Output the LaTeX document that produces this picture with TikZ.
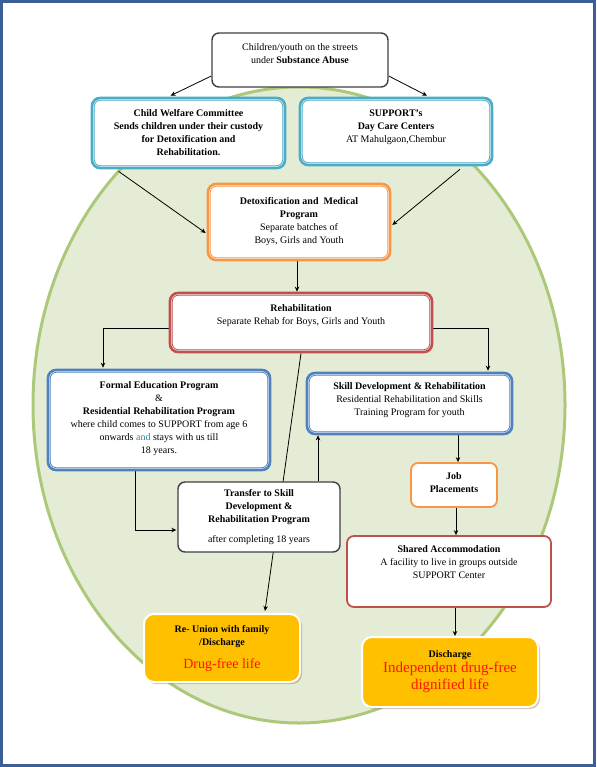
\documentclass[tikz,border=0pt]{standalone}
\usepackage{fontspec}
\setmainfont{Liberation Serif}
\usetikzlibrary{arrows.meta,shadows,calc}
\definecolor{frameblue}{RGB}{59,95,148}
\definecolor{ellfill}{RGB}{229,236,214}
\definecolor{elldraw}{RGB}{172,201,122}
\definecolor{lblue}{RGB}{75,172,198}
\definecolor{mblue}{RGB}{79,129,189}
\definecolor{orng}{RGB}{247,150,70}
\definecolor{rred}{RGB}{192,80,77}
\definecolor{gold}{RGB}{255,192,0}
\definecolor{txtred}{RGB}{255,20,0}
\definecolor{andteal}{RGB}{49,132,155}
\definecolor{dgray}{RGB}{64,64,64}
\newcommand{\dn}[1]{\rule[-#1]{0pt}{#1}}
\newcommand{\bigred}{\fontsize{15}{18}\selectfont\color{txtred}}
\pgfdeclarelayer{ellayer}
\pgfdeclarelayer{linelayer}
\pgfsetlayers{ellayer,linelayer,main}
\begin{document}
\begin{tikzpicture}[x=1pt,y=-1pt,
  box/.style={rectangle, rounded corners=8pt, fill=white, align=center, inner sep=0pt,
    font=\fontsize{10}{13}\selectfont},
  dblbox/.style={box, draw=#1, line width=2.6pt},
  plainbox/.style={box, draw=#1, line width=1.4pt, rounded corners=7pt},
  goldbox/.style={box, fill=gold, draw=white, line width=2pt, rounded corners=10pt,
    drop shadow={shadow xshift=2pt, shadow yshift=-2pt, fill=brown!70!black, opacity=0.35}},
  conn/.style={draw=black, line width=0.8pt, -{Stealth[length=5pt,width=4.5pt]}}
]
\useasboundingbox (0,0) rectangle (596,767);
\begin{pgfonlayer}{ellayer}
\draw[frameblue, line width=3pt] (1.5,1.5) rectangle (594.5,765.5);
% big ellipse
\draw[fill=ellfill, draw=elldraw, line width=3pt] (299,405) ellipse [x radius=266pt, y radius=318pt];
\end{pgfonlayer}

% boxes
\node[plainbox=dgray, minimum width=176pt, minimum height=54pt] (top) at (300,60)
  {Children/youth on the streets\\ under \textbf{Substance Abuse}\dn{13pt}};
\node[dblbox=lblue, minimum width=193pt, minimum height=70pt] (cwc) at (188.5,133)
  {\textbf{Child Welfare Committee}\\ \textbf{Sends children under their custody}\\ \textbf{for Detoxification and}\\ \textbf{Rehabilitation.}};
\node[dblbox=lblue, minimum width=192pt, minimum height=67pt] (support) at (396,131.5)
  {\textbf{SUPPORT's}\\ \textbf{Day Care Centers}\\ AT Mahulgaon,Chembur\dn{11pt}};
\node[dblbox=orng, minimum width=182pt, minimum height=76pt] (detox) at (299,222)
  {\textbf{Detoxification and\ \ Medical}\\ \textbf{Program}\\ Separate batches of\\ Boys, Girls and Youth\dn{4pt}};
\node[dblbox=rred, minimum width=262pt, minimum height=59pt] (rehab) at (301,322.5)
  {\textbf{Rehabilitation}\\ Separate Rehab for Boys, Girls and Youth\dn{16pt}};
\node[dblbox=mblue, minimum width=222pt, minimum height=100pt] (formal) at (159,420)
  {\textbf{Formal Education Program}\\ \&\\ \textbf{Residential Rehabilitation Program}\\ where child comes to SUPPORT from age 6\\ onwards {\color{andteal}and} stays with us till\\ 18 years.\dn{4pt}};
\node[dblbox=mblue, minimum width=205pt, minimum height=61pt] (skill) at (409.5,403.5)
  {\textbf{Skill Development \& Rehabilitation}\\ Residential Rehabilitation and Skills\\ Training Program for youth\dn{8pt}};
\node[plainbox=dgray, minimum width=162pt, minimum height=70pt] (transfer) at (259,517)
  {\textbf{Transfer to Skill}\\ \textbf{Development \&}\\ \textbf{Rehabilitation Program}\\[7pt] after completing 18 years};
\node[plainbox=orng, line width=1.8pt, minimum width=86pt, minimum height=44pt] (job) at (454,485)
  {\textbf{Job}\\ \textbf{Placements}\dn{5pt}};
\node[plainbox=rred, line width=1.8pt, minimum width=204pt, minimum height=71pt] (shared) at (449,571.5)
  {\textbf{Shared Accommodation}\\ A facility to live in groups outside\\ SUPPORT Center\dn{19pt}};
\node[goldbox, minimum width=156pt, minimum height=68pt] (reunion) at (222,648)
  {\textbf{Re- Union with family}\\ \textbf{/Discharge}\\[10pt] {\fontsize{14}{16}\selectfont\color{txtred}Drug-free life}};
\node[goldbox, minimum width=176pt, minimum height=70pt] (discharge) at (450,672)
  {\textbf{Discharge}\\[2pt] {\bigred Independent drug-free}\\[3pt] {\bigred dignified life}\dn{4pt}};

% inner lines of double borders
\foreach \n/\c in {cwc/lblue, support/lblue, detox/orng, rehab/rred, formal/mblue, skill/mblue}
  \draw[\c, line width=0.8pt, rounded corners=6pt]
    ([shift={(3.6,3.6)}]\n.north west) rectangle ([shift={(-3.6,-3.6)}]\n.south east);

% connectors
\begin{pgfonlayer}{linelayer}
\draw[conn] ([shift={(0,16)}]top.west) -- ([shift={(-18,-1)}]cwc.north);
\draw[conn] ([shift={(0,16)}]top.east) -- ([shift={(31,-1)}]support.north);
\draw[conn] ([shift={(-70,2)}]cwc.south) -- ([shift={(-1,11)}]detox.west);
\draw[conn] ([shift={(64,3)}]support.south) -- ([shift={(1,3)}]detox.east);
\draw[conn] ([shift={(-2,0)}]detox.south) -- ([shift={(-2,0)}]detox.south |- rehab.north);
\draw[conn] ([shift={(0,6)}]rehab.west) -| ([shift={(-56,-1)}]formal.north);
\draw[conn] ([shift={(0,6)}]rehab.east) -| ([shift={(78.5,-1)}]skill.north);
\draw[conn] (rehab.south) -- ([shift={(43,-2)}]reunion.north);
\draw[conn] ([shift={(-24,0)}]formal.south) |- ([shift={(-1,13)}]transfer.west);
\coordinate (tup) at ([shift={(59,0)}]transfer.north);
\draw[conn] (tup) -- (tup |- skill.south);
\coordinate (sdn) at ([shift={(48.5,0)}]skill.south);
\draw[conn] (sdn) -- (sdn |- job.north);
\coordinate (jdn) at ([shift={(2,0)}]job.south);
\draw[conn] (jdn) -- (jdn |- shared.north);
\coordinate (shdn) at ([shift={(6,0)}]shared.south);
\draw[conn] (shdn) -- (shdn |- discharge.north);
\end{pgfonlayer}
\end{tikzpicture}
\end{document}
